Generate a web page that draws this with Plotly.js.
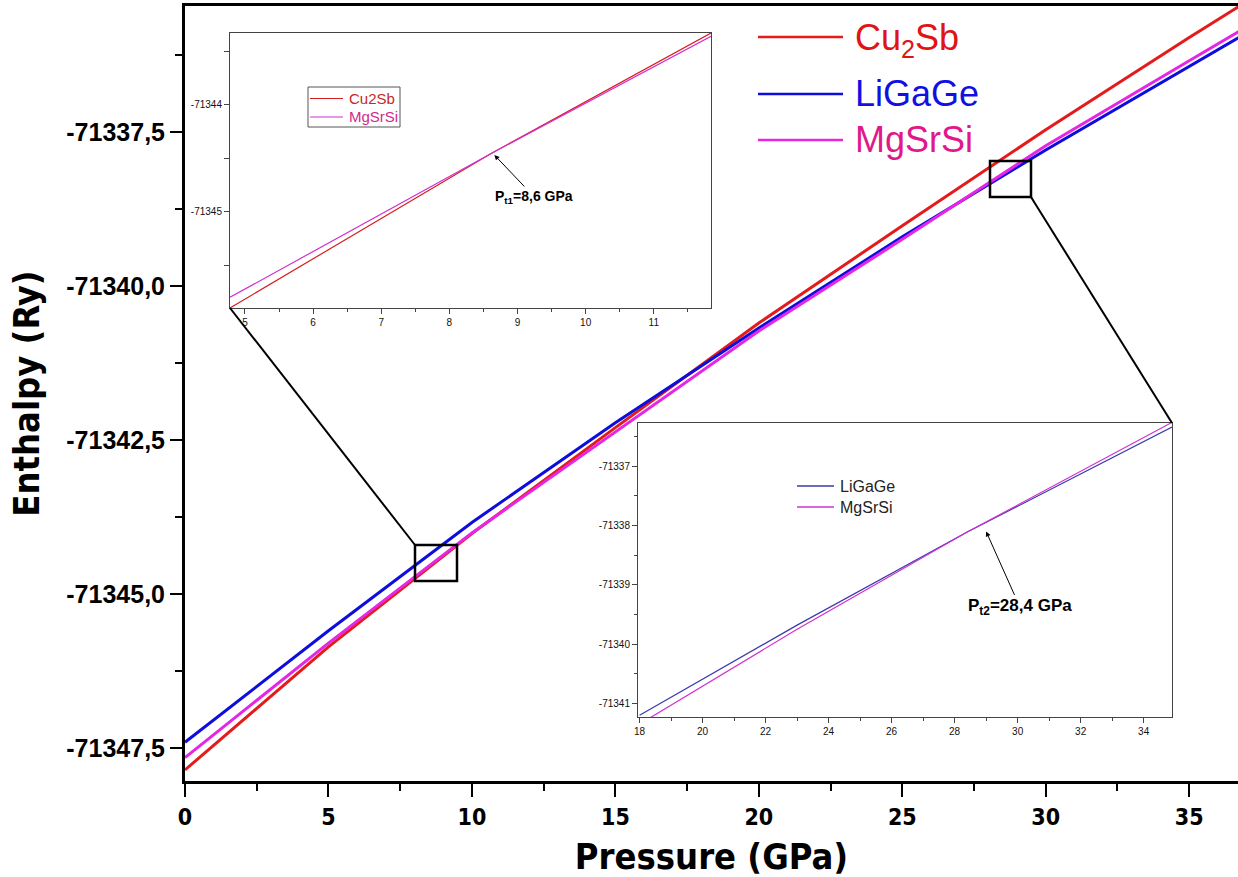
<!DOCTYPE html>
<html><head><meta charset="utf-8">
<script src="https://cdn.plot.ly/plotly-3.0.1.min.js"></script>
<style>html,body{margin:0;padding:0;background:#fff}</style>
</head><body>
<div id="chart" style="width:1238px;height:877px"></div>
<script>
// ---------- main chart data (pressure in GPa, enthalpy in Ry) ----------
const pressure = [0, 5, 10, 15, 20, 25, 30, 35, 37];
const hCu2Sb   = [-71347.86, -71345.86, -71344.02, -71342.30, -71340.60, -71339.02, -71337.46, -71335.96, -71335.38];
const hLiGaGe  = [-71347.41, -71345.60, -71343.84, -71342.22, -71340.68, -71339.20, -71337.79, -71336.43, -71335.89];
const hMgSrSi  = [-71347.66, -71345.80, -71344.01, -71342.37, -71340.73, -71339.24, -71337.72, -71336.34, -71335.79];

// ---------- inset 1 (Cu2Sb / MgSrSi around Pt1) ----------
const p1        = [4.78, 8.6, 11.84];
const h1Cu2Sb   = [-71345.90, -71344.46, -71343.33];
const h1MgSrSi  = [-71345.80, -71344.46, -71343.36];

// ---------- inset 2 (LiGaGe / MgSrSi around Pt2) ----------
const p2        = [18, 23, 28.4, 34.9];
const h2LiGaGe  = [-71341.20, -71339.68, -71338.11, -71336.34];
const h2MgSrSi  = [-71341.35, -71339.75, -71338.11, -71336.26];

// ---------- tick labels ----------
const mainXTicks = [0, 5, 10, 15, 20, 25, 30, 35];
const mainYTicks = [-71347.5, -71345, -71342.5, -71340, -71337.5];
const mainYText  = ['-71347,5', '-71345,0', '-71342,5', '-71340,0', '-71337,5'];
const in1XTicks  = [5, 6, 7, 8, 9, 10, 11];
const in1YTicks  = [-71345, -71344];
const in1YText   = ['-71345', '-71344'];
const in2XTicks  = [18, 20, 22, 24, 26, 28, 30, 32, 34];
const in2YTicks  = [-71341, -71340, -71339, -71338, -71337];
const in2YText   = ['-71341', '-71340', '-71339', '-71338', '-71337'];

// ---------- labels ----------
const seriesNames = ['Cu<sub>2</sub>Sb', 'LiGaGe', 'MgSrSi'];
const inset1Names = ['Cu2Sb', 'MgSrSi'];
const inset2Names = ['LiGaGe', 'MgSrSi'];
const pt1Label = '<b>P<sub>t1</sub>=8,6 GPa</b>';
const pt2Label = '<b>P<sub>t2</sub>=28,4 GPa</b>';

// ---------- geometry helpers ----------
const W = 1238, H = 877, ML = 185, MR = 0, MT = 6, MB = 96;
const fx = px => (px - ML) / (W - ML - MR);
const fy = py => (H - MB - py) / (H - MT - MB);

const NARROW = '"Liberation Sans Narrow", "DejaVu Sans Condensed", "Arial Narrow", "DejaVu Sans", sans-serif';
const ARIAL = '"Liberation Sans", Arial, sans-serif';

const C_RED = '#e41b1b', C_BLUE = '#0d0ddc', C_MAG = '#e526e5';

const traces = [
  {x: pressure, y: hCu2Sb,  mode: 'lines', line: {color: C_RED,  width: 3}, xaxis: 'x', yaxis: 'y', showlegend: false},
  {x: pressure, y: hLiGaGe, mode: 'lines', line: {color: C_BLUE, width: 3}, xaxis: 'x', yaxis: 'y', showlegend: false},
  {x: pressure, y: hMgSrSi, mode: 'lines', line: {color: C_MAG,  width: 3}, xaxis: 'x', yaxis: 'y', showlegend: false},
  {x: p1, y: h1Cu2Sb,  mode: 'lines', line: {color: '#d42020', width: 1.2}, xaxis: 'x2', yaxis: 'y2', showlegend: false},
  {x: p1, y: h1MgSrSi, mode: 'lines', line: {color: '#d030d0', width: 1.2}, xaxis: 'x2', yaxis: 'y2', showlegend: false},
  {x: p2, y: h2LiGaGe, mode: 'lines', line: {color: '#3a3aae', width: 1.2}, xaxis: 'x3', yaxis: 'y3', showlegend: false},
  {x: p2, y: h2MgSrSi, mode: 'lines', line: {color: '#d030d0', width: 1.2}, xaxis: 'x3', yaxis: 'y3', showlegend: false}
];

const insetAxis = (extra) => Object.assign({
  showline: true, linecolor: '#444', linewidth: 1, mirror: true,
  ticks: 'outside', ticklen: 5, tickwidth: 1, tickcolor: '#444',
  tickfont: {family: ARIAL, size: 10, color: '#111'},
  showgrid: false, zeroline: false, fixedrange: true
}, extra);

const layout = {
  width: W, height: H,
  margin: {l: ML, r: MR, t: MT, b: MB, pad: 0},
  paper_bgcolor: '#fff', plot_bgcolor: '#fff',
  showlegend: false,
  xaxis: {
    domain: [0, 1], range: [0, 36.7], anchor: 'y',
    showline: true, linewidth: 3, linecolor: '#000', mirror: true,
    ticks: 'outside', ticklen: 13, tickwidth: 2, tickcolor: '#000',
    tickmode: 'array', tickvals: mainXTicks, ticktext: mainXTicks.map(String),
    tickfont: {family: NARROW, size: 23, color: '#000', weight: 'bold'},
    minor: {ticks: 'outside', ticklen: 7, tickwidth: 2, tickcolor: '#000', tickmode: 'linear', tick0: 0, dtick: 2.5},
    showgrid: false, zeroline: false,
    title: {text: 'Pressure (GPa)', font: {family: NARROW, size: 36, color: '#000', weight: 'bold'}, standoff: 18}
  },
  yaxis: {
    domain: [0, 1], range: [-71348.04, -71335.45], anchor: 'x',
    showline: true, linewidth: 3, linecolor: '#000', mirror: true,
    ticks: 'outside', ticklen: 12, tickwidth: 2, tickcolor: '#000',
    tickmode: 'array', tickvals: mainYTicks, ticktext: mainYText,
    tickfont: {family: ARIAL, size: 25, color: '#000', weight: 'bold'},
    minor: {ticks: 'outside', ticklen: 7, tickwidth: 2, tickcolor: '#000', tickmode: 'linear', tick0: -71347.5, dtick: 1.25},
    showgrid: false, zeroline: false,
    title: {text: 'Enthalpy (Ry)', font: {family: NARROW, size: 36, color: '#000', weight: 'bold'}, standoff: 16}
  },
  xaxis2: insetAxis({domain: [fx(230), fx(711)], anchor: 'y2', range: [4.78, 11.84],
    tickmode: 'array', tickvals: in1XTicks, ticktext: in1XTicks.map(String),
    minor: {ticks: 'outside', ticklen: 3, tickwidth: 1, tickcolor: '#444', tickmode: 'linear', tick0: 5, dtick: 0.5}}),
  yaxis2: insetAxis({domain: [fy(308), fy(33)], anchor: 'x2', range: [-71345.9, -71343.33],
    tickmode: 'array', tickvals: in1YTicks, ticktext: in1YText,
    minor: {ticks: 'outside', ticklen: 5, tickwidth: 1, tickcolor: '#444', tickmode: 'linear', tick0: -71345, dtick: 0.5}}),
  xaxis3: insetAxis({domain: [fx(638), fx(1172)], anchor: 'y3', range: [17.95, 34.9],
    tickmode: 'array', tickvals: in2XTicks, ticktext: in2XTicks.map(String),
    minor: {ticks: 'outside', ticklen: 3, tickwidth: 1, tickcolor: '#444', tickmode: 'linear', tick0: 18, dtick: 1}}),
  yaxis3: insetAxis({domain: [fy(717), fy(423)], anchor: 'x3', range: [-71341.23, -71336.27],
    tickmode: 'array', tickvals: in2YTicks, ticktext: in2YText,
    minor: {ticks: 'outside', ticklen: 3, tickwidth: 1, tickcolor: '#444', tickmode: 'linear', tick0: -71341, dtick: 0.5}}),
  shapes: [
    // zoom boxes on main plot
    {type: 'rect', xref: 'paper', yref: 'paper', x0: fx(415), x1: fx(457), y0: fy(581), y1: fy(545), line: {color: '#000', width: 2.5}},
    {type: 'rect', xref: 'paper', yref: 'paper', x0: fx(990), x1: fx(1031), y0: fy(197), y1: fy(161), line: {color: '#000', width: 2.5}},
    // connector lines
    {type: 'line', xref: 'paper', yref: 'paper', x0: fx(415), y0: fy(545), x1: fx(230), y1: fy(308), line: {color: '#000', width: 2}},
    {type: 'line', xref: 'paper', yref: 'paper', x0: fx(1031), y0: fy(197), x1: fx(1172), y1: fy(423), line: {color: '#000', width: 2}},
    // main legend lines
    {type: 'line', xref: 'paper', yref: 'paper', x0: fx(758), x1: fx(843), y0: fy(37), y1: fy(37), line: {color: C_RED, width: 2.5}},
    {type: 'line', xref: 'paper', yref: 'paper', x0: fx(758), x1: fx(843), y0: fy(94), y1: fy(94), line: {color: C_BLUE, width: 2.5}},
    {type: 'line', xref: 'paper', yref: 'paper', x0: fx(758), x1: fx(843), y0: fy(140), y1: fy(140), line: {color: C_MAG, width: 2.5}},
    // inset 1 legend
    {type: 'rect', xref: 'paper', yref: 'paper', x0: fx(308), x1: fx(400), y0: fy(127), y1: fy(87), line: {color: '#555', width: 1}},
    {type: 'line', xref: 'paper', yref: 'paper', x0: fx(310), x1: fx(343), y0: fy(98.5), y1: fy(98.5), line: {color: '#d42020', width: 1.2}},
    {type: 'line', xref: 'paper', yref: 'paper', x0: fx(310), x1: fx(343), y0: fy(117), y1: fy(117), line: {color: '#d030d0', width: 1.2}},
    // inset 2 legend
    {type: 'line', xref: 'paper', yref: 'paper', x0: fx(797), x1: fx(834), y0: fy(486), y1: fy(486), line: {color: '#3a3aae', width: 1.5}},
    {type: 'line', xref: 'paper', yref: 'paper', x0: fx(797), x1: fx(834), y0: fy(507), y1: fy(507), line: {color: '#d030d0', width: 1.5}}
  ],
  annotations: [
    {xref: 'paper', yref: 'paper', x: fx(853), y: fy(40), xanchor: 'left', yanchor: 'middle', showarrow: false,
     text: seriesNames[0], font: {family: ARIAL, size: 36, color: '#e01414'}},
    {xref: 'paper', yref: 'paper', x: fx(853), y: fy(94), xanchor: 'left', yanchor: 'middle', showarrow: false,
     text: seriesNames[1], font: {family: ARIAL, size: 36, color: '#1010e4'}},
    {xref: 'paper', yref: 'paper', x: fx(853), y: fy(140), xanchor: 'left', yanchor: 'middle', showarrow: false,
     text: seriesNames[2], font: {family: ARIAL, size: 36, color: '#e0188c'}},
    {xref: 'paper', yref: 'paper', x: fx(347), y: fy(98.5), xanchor: 'left', yanchor: 'middle', showarrow: false,
     text: inset1Names[0], font: {family: ARIAL, size: 15, color: '#c82828'}},
    {xref: 'paper', yref: 'paper', x: fx(347), y: fy(117), xanchor: 'left', yanchor: 'middle', showarrow: false,
     text: inset1Names[1], font: {family: ARIAL, size: 15, color: '#d02a8c'}},
    {xref: 'paper', yref: 'paper', x: fx(838), y: fy(486), xanchor: 'left', yanchor: 'middle', showarrow: false,
     text: inset2Names[0], font: {family: ARIAL, size: 16, color: '#222'}},
    {xref: 'paper', yref: 'paper', x: fx(838), y: fy(507), xanchor: 'left', yanchor: 'middle', showarrow: false,
     text: inset2Names[1], font: {family: ARIAL, size: 16, color: '#222'}},
    {xref: 'x2', yref: 'y2', x: 8.66, y: -71344.47, ax: 40, ay: 42, text: pt1Label,
     showarrow: true, arrowhead: 2, arrowsize: 1, arrowwidth: 1, arrowcolor: '#000', font: {family: ARIAL, size: 14, color: '#000'}},
    {xref: 'x3', yref: 'y3', x: 29.0, y: -71338.1, ax: 34, ay: 76, text: pt2Label,
     showarrow: true, arrowhead: 2, arrowsize: 1, arrowwidth: 1, arrowcolor: '#000', font: {family: ARIAL, size: 17, color: '#000'}}
  ]
};

Plotly.newPlot('chart', traces, layout, {staticPlot: true, displayModeBar: false});
</script>
</body></html>
